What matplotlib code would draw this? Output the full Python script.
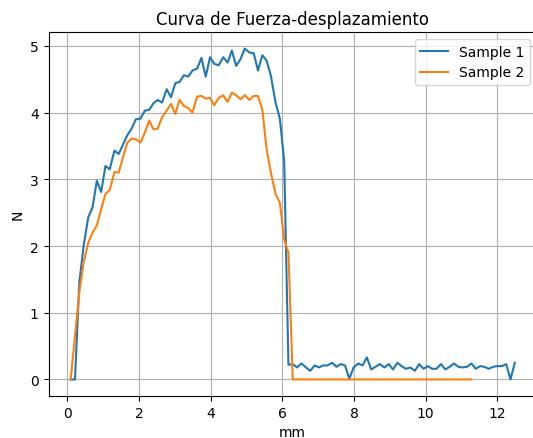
import matplotlib
matplotlib.use('Agg')
import matplotlib.pyplot as plt

# displacement (mm) for each sample reading
mm_1 = [0.09, 0.21, 0.33, 0.45, 0.58, 0.70, 0.82, 0.94, 1.06, 1.18,
        1.31, 1.43, 1.55, 1.67, 1.79, 1.91, 2.04, 2.16, 2.28, 2.40,
        2.52, 2.64, 2.77, 2.89, 3.01, 3.13, 3.25, 3.37, 3.49, 3.62,
        3.74, 3.86, 3.98, 4.10, 4.22, 4.35, 4.47, 4.59, 4.71, 4.83,
        4.95, 5.08, 5.20, 5.32, 5.44, 5.56, 5.68, 5.81, 5.93, 6.05,
        6.17, 6.29, 6.41, 6.53, 6.66, 6.78, 6.90, 7.02, 7.14, 7.26,
        7.39, 7.51, 7.63, 7.75, 7.87, 7.99, 8.12, 8.24, 8.36, 8.48,
        8.60, 8.72, 8.85, 8.97, 9.09, 9.21, 9.33, 9.45, 9.57, 9.70,
        9.82, 9.94, 10.06, 10.18, 10.30, 10.43, 10.55, 10.67, 10.79, 10.91,
        11.03, 11.16, 11.28, 11.40, 11.52, 11.64, 11.76, 11.89, 12.01, 12.13,
        12.25, 12.37, 12.49]

# force (N) sample 1
force_1 = [0.00, 0.00, 1.45, 2.00, 2.43, 2.58, 2.98, 2.81, 3.20, 3.15,
           3.43, 3.38, 3.52, 3.66, 3.76, 3.90, 3.91, 4.03, 4.04, 4.14,
           4.19, 4.15, 4.35, 4.23, 4.44, 4.46, 4.56, 4.54, 4.63, 4.66,
           4.82, 4.54, 4.83, 4.73, 4.71, 4.83, 4.75, 4.93, 4.70, 4.80,
           4.96, 4.90, 4.89, 4.63, 4.86, 4.78, 4.55, 4.15, 3.91, 3.28,
           0.22, 0.23, 0.18, 0.24, 0.18, 0.13, 0.21, 0.18, 0.21, 0.21,
           0.25, 0.19, 0.23, 0.21, 0.01, 0.18, 0.24, 0.21, 0.33, 0.15,
           0.19, 0.23, 0.18, 0.23, 0.15, 0.25, 0.20, 0.16, 0.18, 0.13,
           0.23, 0.16, 0.20, 0.16, 0.16, 0.23, 0.15, 0.19, 0.24, 0.19,
           0.18, 0.19, 0.24, 0.16, 0.20, 0.19, 0.16, 0.19, 0.20, 0.20,
           0.23, 0.00, 0.25]

mm_2 = mm_1[:93]

# force (N) sample 2
force_2 = [0.00, 0.65, 1.30, 1.75, 2.05, 2.20, 2.31, 2.55, 2.78, 2.84,
           3.11, 3.10, 3.33, 3.55, 3.61, 3.60, 3.55, 3.70, 3.88, 3.75,
           3.76, 3.93, 4.03, 4.13, 3.98, 4.19, 4.10, 4.07, 4.00, 4.24,
           4.25, 4.21, 4.22, 4.11, 4.22, 4.26, 4.16, 4.30, 4.26, 4.20,
           4.26, 4.19, 4.25, 4.25, 4.05, 3.45, 3.10, 2.78, 2.65, 2.10,
           1.90, 0.00, 0.00, 0.00, 0.00, 0.00, 0.00, 0.00, 0.00, 0.00,
           0.00, 0.00, 0.00, 0.00, 0.00, 0.00, 0.00, 0.00, 0.00, 0.00,
           0.00, 0.00, 0.00, 0.00, 0.00, 0.00, 0.00, 0.00, 0.00, 0.00,
           0.00, 0.00, 0.00, 0.00, 0.00, 0.00, 0.00, 0.00, 0.00, 0.00,
           0.00, 0.00, 0.00]

fig = plt.figure(figsize=(5.33, 4.39), dpi=100)
# axes runs a bit past the right edge (original image was cropped)
ax = fig.add_axes([48.5 / 533, 1 - 397 / 439, (537 - 48.5) / 533, 364 / 439])

ax.plot(mm_1, force_1, label='Sample 1')
ax.plot(mm_2, force_2, label='Sample 2')
ax.set_xlabel('mm')
ax.set_ylabel('N')
ax.set_title('Curva de Fuerza-desplazamiento')
ax.grid(True)
ax.legend(loc='upper right')

fig.savefig('out.png', dpi=100)
